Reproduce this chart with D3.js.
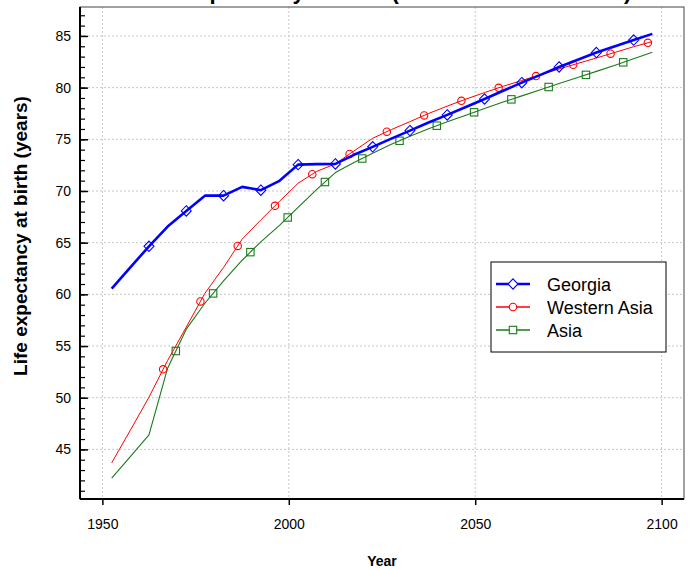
<!DOCTYPE html>
<html><head><meta charset="utf-8">
<script src="https://cdn.jsdelivr.net/npm/d3@7/dist/d3.min.js"></script>
<style>body{margin:0;background:#fff}svg{display:block;font-family:"Liberation Sans",Arial,sans-serif}</style>
</head><body><svg id="c" width="697" height="570"></svg>
<script>
const years = [1952.5,1957.5,1962.5,1967.5,1972.5,1977.5,1982.5,1987.5,1992.5,1997.5,2002.5,2007.5,2012.5,2017.5,2022.5,2027.5,2032.5,2037.5,2042.5,2047.5,2052.5,2057.5,2062.5,2067.5,2072.5,2077.5,2082.5,2087.5,2092.5,2097.5];
const georgia = [60.55,62.6,64.65,66.56,68.07,69.55,69.55,70.4,70.08,70.98,72.55,72.6,72.62,73.5,74.27,75.07,75.84,76.62,77.36,78.13,78.9,79.7,80.48,81.23,82.0,82.7,83.39,84.0,84.6,85.2];
const westernAsia = [43.7,46.85,50.05,53.6,56.83,60.1,62.6,65.34,67.2,69.0,70.75,71.9,72.62,73.88,75.1,75.94,76.71,77.5,78.21,78.89,79.52,80.13,80.69,81.25,81.8,82.34,82.87,83.41,83.96,84.45];
const asia = [42.21,44.3,46.4,52.86,56.63,59.14,61.3,63.3,65.08,66.67,68.41,70.15,71.78,72.75,73.64,74.52,75.29,76.02,76.69,77.33,77.97,78.6,79.2,79.8,80.39,80.97,81.57,82.17,82.8,83.42];
const georgiaMarkerYears = [1962.5,1972.5,1982.5,1992.5,2002.5,2012.5,2022.5,2032.5,2042.5,2052.5,2062.5,2072.5,2082.5,2092.5];
const westernAsiaMarkerYears = [1966.3,1976.3,1986.3,1996.3,2006.3,2016.3,2026.3,2036.3,2046.3,2056.3,2066.3,2076.3,2086.3,2096.3];
const asiaMarkerYears = [1969.7,1979.7,1989.7,1999.7,2009.7,2019.7,2029.7,2039.7,2049.7,2059.7,2069.7,2079.7,2089.7];
const xTicks = [1950,2000,2050,2100];
const yTicks = [45,50,55,60,65,70,75,80,85];
const seriesNames = ["Georgia","Western Asia","Asia"];
const titleText = "Life expectancy at birth (both sexes combined)";
const xLabel = "Year";
const yLabel = "Life expectancy at birth (years)";

const svg = d3.select("#c");
const L=80,R=684,T=7,B=499;
const x = d3.scaleLinear().domain([1944,2106]).range([L,R]);
const y = d3.scaleLinear().domain([40.2,87.8]).range([B,T]);

// grid
const g = svg.append("g");
g.selectAll(".gx").data(xTicks).join("line").attr("x1",d=>x(d)).attr("x2",d=>x(d)).attr("y1",T).attr("y2",B)
 .attr("stroke","#c8c8c8").attr("stroke-dasharray","2,2");
g.selectAll(".gy").data(yTicks).join("line").attr("x1",L).attr("x2",R).attr("y1",d=>y(d)).attr("y2",d=>y(d))
 .attr("stroke","#c8c8c8").attr("stroke-dasharray","2,2");

// box
svg.append("rect").attr("x",L).attr("y",T).attr("width",R-L).attr("height",B-T).attr("fill","none").attr("stroke","#444").attr("stroke-width",1);

// axes
const xAxis = d3.axisBottom(x).tickValues(xTicks).tickSize(6).tickPadding(14).tickFormat(d3.format("d"));
const ax = svg.append("g").attr("transform",`translate(0,${B})`).call(xAxis);
ax.select(".domain").attr("stroke","#000").attr("stroke-width",2).attr("d",`M${L},0H${R}`);
ax.selectAll(".tick line").attr("stroke","#000").attr("stroke-width",1.5);
ax.selectAll("text").attr("font-size",14).attr("fill","#000").attr("font-family","Liberation Sans, Arial, sans-serif");

const minor = d3.range(41,88);
const yMinor = d3.axisRight(y).tickValues(minor).tickSize(5).tickFormat("");
const aym = svg.append("g").attr("transform",`translate(${L},0)`).call(yMinor);
aym.select(".domain").remove();
aym.selectAll(".tick line").attr("stroke","#000").attr("stroke-width",1.2);
const yAxis = d3.axisLeft(y).tickValues(yTicks).tickSize(0).tickPadding(9);
const ay = svg.append("g").attr("transform",`translate(${L},0)`).call(yAxis);
ay.select(".domain").attr("stroke","#000").attr("stroke-width",2).attr("d",`M0,${T}V${B}`);
ay.selectAll("text").attr("font-size",14).attr("fill","#000").attr("font-family","Liberation Sans, Arial, sans-serif");
ay.selectAll(".tick").append("line").attr("x1",0).attr("x2",8).attr("stroke","#000").attr("stroke-width",1.5);

// labels
svg.append("text").attr("x",385.5).attr("y",-1).attr("text-anchor","middle").attr("font-weight","bold").attr("font-size",22).text(titleText);
svg.append("text").attr("x",382).attr("y",566).attr("text-anchor","middle").attr("font-weight","bold").attr("font-size",14).text(xLabel);
svg.append("text").attr("transform","translate(27,236) rotate(-90)").attr("text-anchor","middle").attr("font-weight","bold").attr("font-size",19).text(yLabel);

// series
const series = [
 {name:seriesNames[0], vals:georgia, mk:georgiaMarkerYears, color:"#0000ff", w:2.6, shape:"diamond"},
 {name:seriesNames[1], vals:westernAsia, mk:westernAsiaMarkerYears, color:"#ff0000", w:1, shape:"circle"},
 {name:seriesNames[2], vals:asia, mk:asiaMarkerYears, color:"#1b7a1b", w:1.1, shape:"square"}
];
const line = d3.line().x(d=>x(d[0])).y(d=>y(d[1]));
const interp = (vals, yr) => { const i = d3.bisectRight(years, yr)-1; const j=Math.min(i+1,years.length-1); const t=(yr-years[i])/(years[j]-years[i]||1); return vals[i]+(vals[j]-vals[i])*t; };
function drawMarker(sel, shape, color){
  if(shape==="diamond") sel.append("path").attr("d","M0,-5.2L5,0L0,5.2L-5,0Z");
  else if(shape==="circle") sel.append("circle").attr("r",3.7);
  else sel.append("rect").attr("x",-3.7).attr("y",-3.7).attr("width",7.4).attr("height",7.4);
  sel.selectAll("*").attr("fill","none").attr("stroke",color).attr("stroke-width",1.1);
}
[...series].reverse().forEach(s=>{
  svg.append("path").datum(years.map((yr,i)=>[yr,s.vals[i]])).attr("d",line).attr("fill","none").attr("stroke",s.color).attr("stroke-width",s.w).attr("stroke-linejoin","round");
  s.mk.forEach(yr=>{
    const m = svg.append("g").attr("transform",`translate(${x(yr)},${y(interp(s.vals,yr))})`);
    drawMarker(m,s.shape,s.color);
  });
});

// legend
const lg = svg.append("g");
lg.append("rect").attr("x",491).attr("y",262).attr("width",175).attr("height",90).attr("fill","#fff").attr("stroke","#000").attr("stroke-width",1);
series.forEach((s,i)=>{
  const yy = 284 + i*23;
  lg.append("line").attr("x1",496).attr("x2",530).attr("y1",yy).attr("y2",yy).attr("stroke",s.color).attr("stroke-width",s.w<2?1.5:s.w);
  const m = lg.append("g").attr("transform",`translate(513,${yy})`);
  drawMarker(m,s.shape,s.color);
  m.selectAll("*").attr("fill","#fff");
  lg.append("text").attr("x",547).attr("y",yy+6.5).attr("font-size",18).attr("fill","#000").text(s.name);
});
</script></body></html>
